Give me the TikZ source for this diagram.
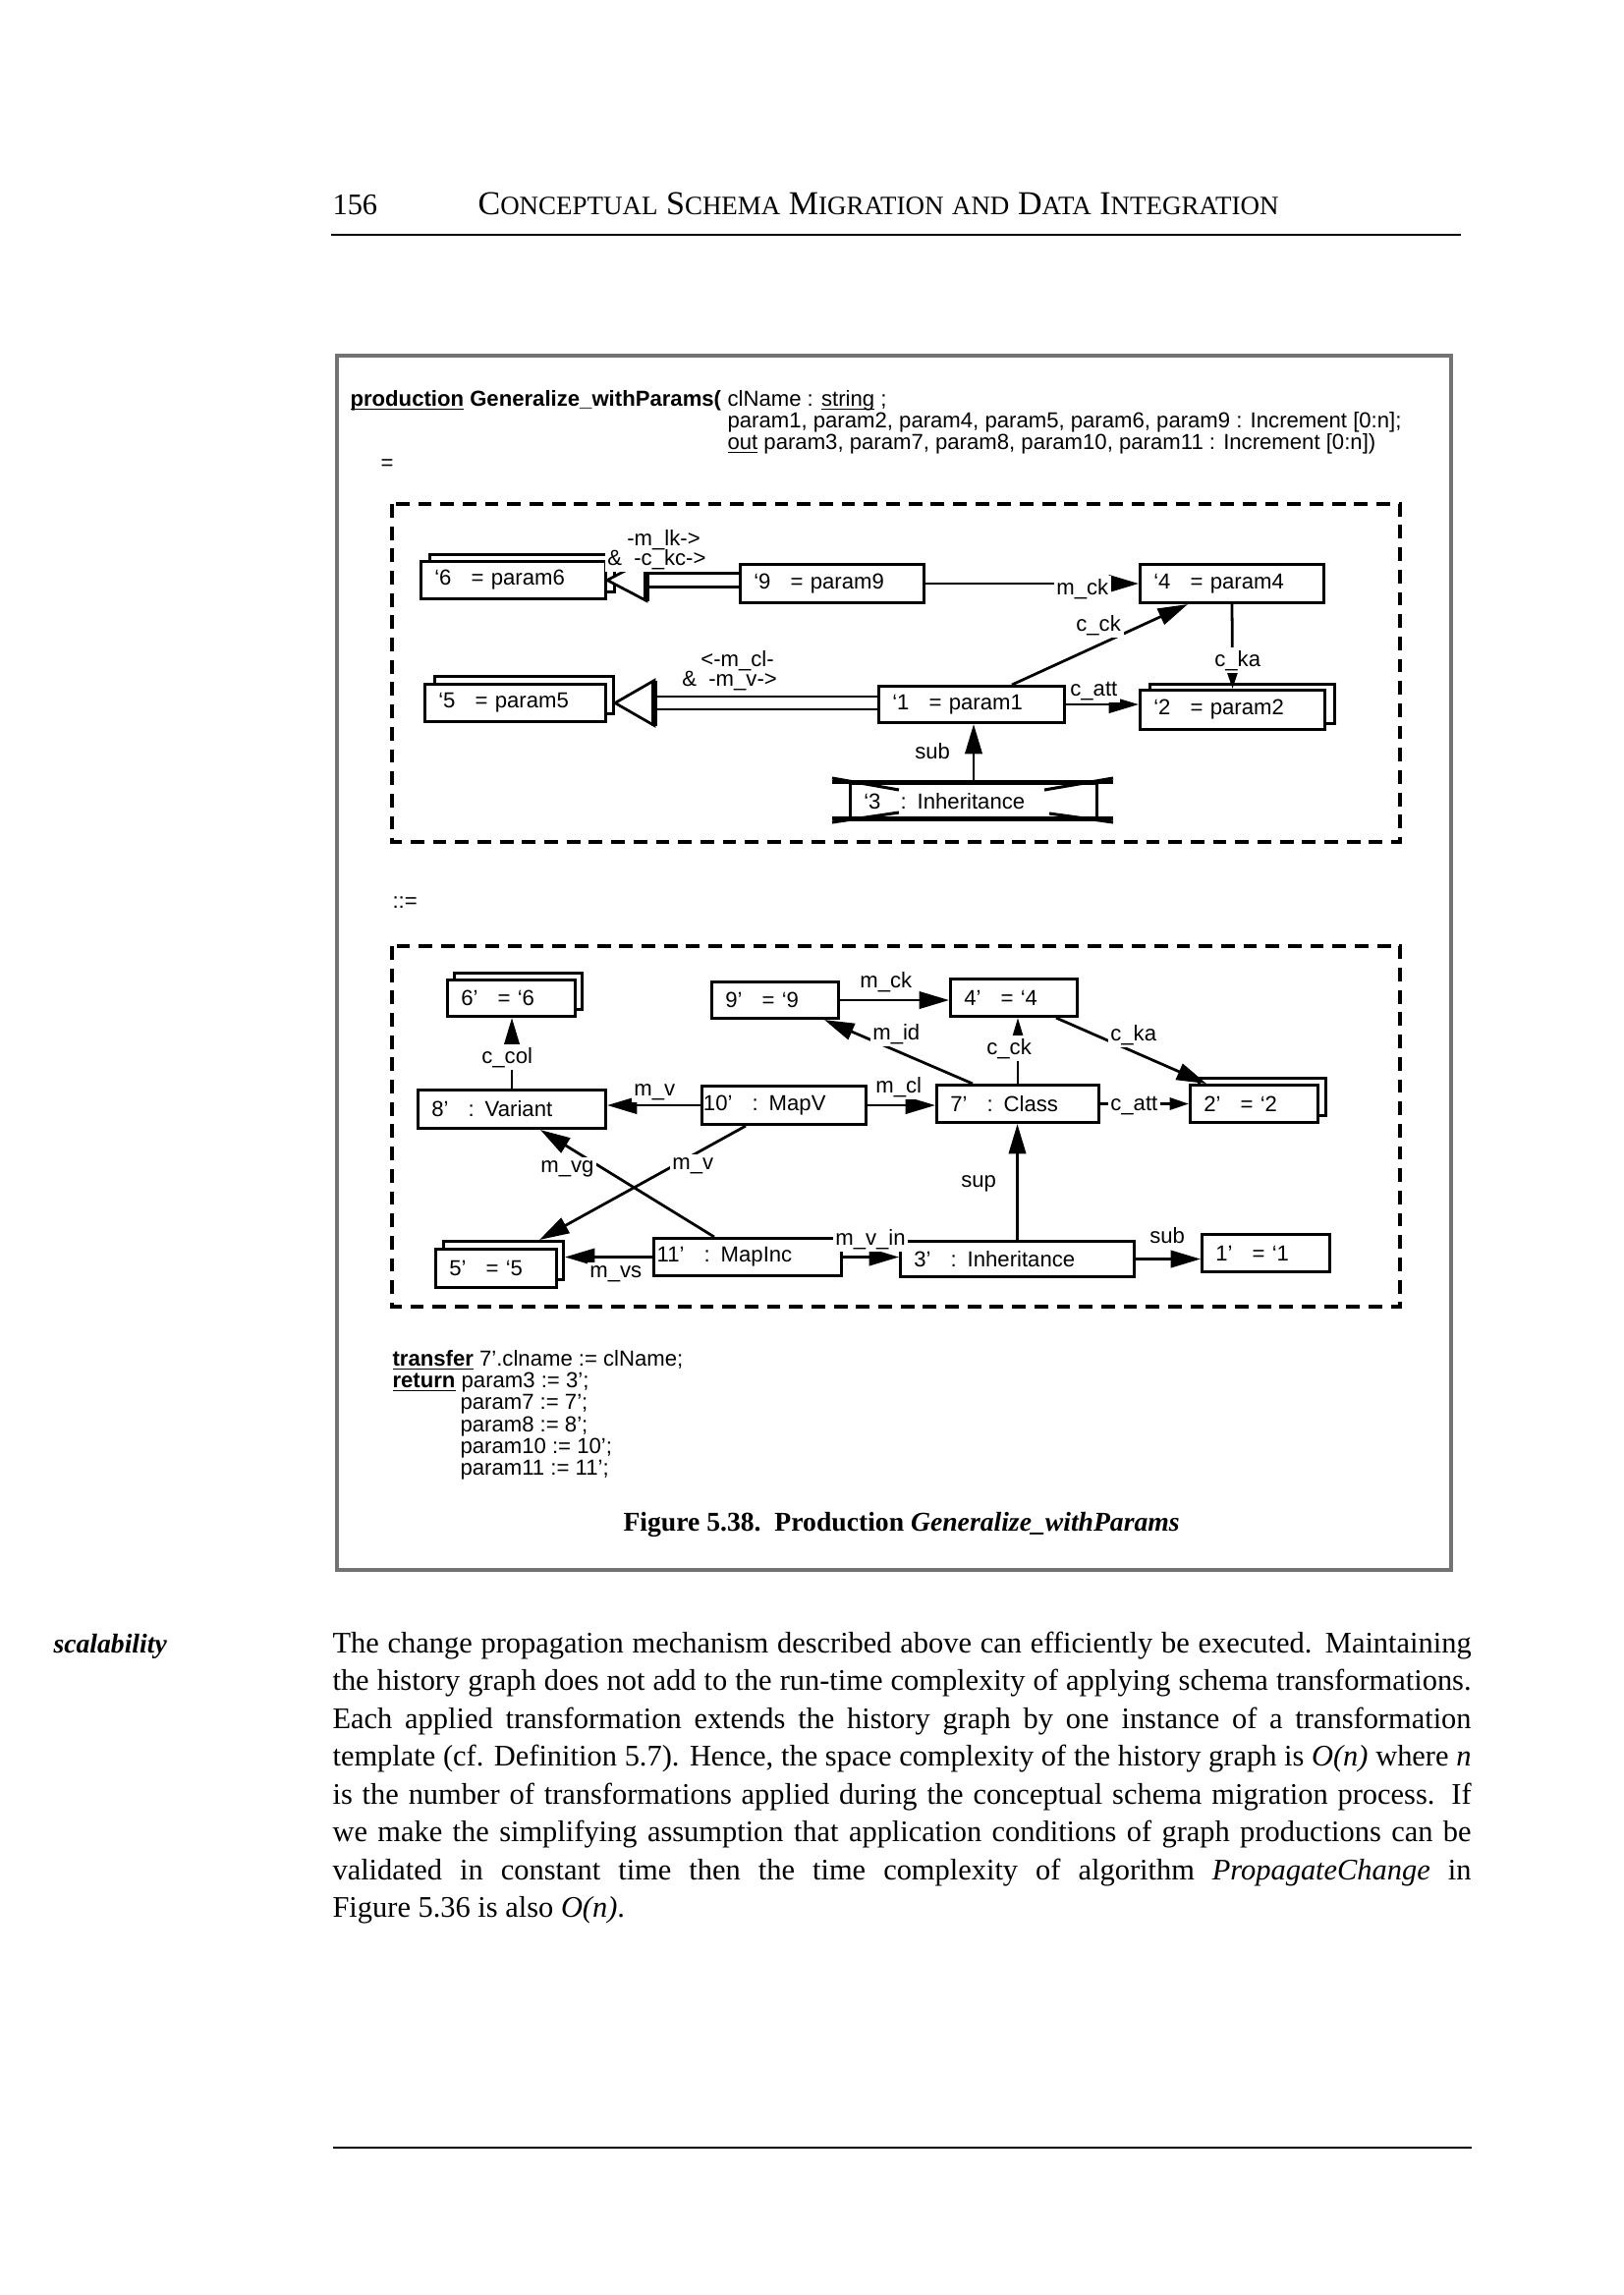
\documentclass[tikz,border=0pt]{standalone}
\usepackage{fontspec}
\setmainfont{Liberation Serif}
\newfontfamily\hvfont{Liberation Sans}
\usetikzlibrary{arrows.meta}
\newdimen\upx
\upx=0.12704mm
\newcommand\dfont{\hvfont\fontsize{8pt}{8pt}\selectfont}
\newcommand\nmcol[1]{\makebox[31\upx][r]{#1}\hspace*{20\upx}}
\newcommand\ulx[1]{\underline{\smash{#1}}}
\newcommand\fsc[2]{{\fontsize{12.3pt}{14pt}\selectfont #1}{\fontsize{9.75pt}{12pt}\selectfont #2}}
\begin{document}
\begin{tikzpicture}[x=0.12704mm, y=-0.12704mm,
  box/.style={draw, line width=1.1pt, fill=white, anchor=north west, inner sep=0pt, align=left, font=\dfont},
  txt/.style={anchor=base west, inner sep=0pt},
  lbl/.style={anchor=base west, inner sep=1pt, fill=white, font=\dfont},
  arr/.style={line width=1pt, -{Triangle[length=11pt,width=6.3pt]}},
  sarr/.style={line width=1pt, -{Triangle[length=7pt,width=4.4pt]}},
  dbl/.style={line width=1pt},
  hollow/.style={line width=1pt, fill=white, line join=miter},
  dashframe/.style={dash pattern=on 5pt off 3.2pt, line width=1.1pt},
  deco/.style={line width=1.1pt},
  body/.style={anchor=base west, inner sep=0pt, font=\fontsize{11pt}{13.9pt}\selectfont}
]
\useasboundingbox (0,0) rectangle (1653,2336);

% page header
\node[txt, font=\fontsize{11pt}{13pt}\selectfont] (pnum) at (338,218) {156};
\node[txt, font=\fontsize{12.3pt}{14pt}\selectfont] (title) at (486,218) {\fsc{C}{ONCEPTUAL} \fsc{S}{CHEMA} \fsc{M}{IGRATION} {\fontsize{9.75pt}{12pt}\selectfont AND} \fsc{D}{ATA} \fsc{I}{NTEGRATION}};
\draw[line width=1pt] (337,239) -- (1487,239);

% figure frame
\draw[line width=1.1pt, black!55] (343,362) rectangle (1477,1598);

% production heading
\node[txt, font=\dfont] (h1) at (356,413) {\textbf{\ulx{production} Generalize\_withParams(}};
\node[txt, font=\dfont] (h2) at (740,413) {clName : \ulx{string} ;};
\node[txt, font=\dfont] (h3) at (740,435) {param1, param2, param4, param5, param6, param9 : Increment [0:n];};
\node[txt, font=\dfont] (h4) at (740,457) {\ulx{out} param3, param7, param8, param10, param11 : Increment [0:n])};
\node[txt, font=\dfont] (heq) at (387,478) {=};

% left-hand side
\draw[dashframe] (399,513) rectangle (1425,857);
\node[box, minimum width=188\upx, minimum height=38\upx, text width=188\upx] (n6b) at (436,563) {};
\node[box, minimum width=188\upx, minimum height=38\upx, text width=188\upx] (n6) at (427,570) {\nmcol{‘6}= param6};
\node[box, minimum width=187\upx, minimum height=39\upx, text width=187\upx] (n9) at (752,573) {\nmcol{‘9}= param9};
\node[box, minimum width=187\upx, minimum height=39\upx, text width=187\upx] (n4) at (1159,573) {\nmcol{‘4}= param4};
\node[box, minimum width=182\upx, minimum height=38\upx, text width=182\upx] (n5b) at (441,687) {};
\node[box, minimum width=184\upx, minimum height=38\upx, text width=184\upx] (n5) at (431,695) {\nmcol{‘5}= param5};
\node[box, minimum width=189\upx, minimum height=37\upx, text width=189\upx] (n1) at (893,697) {\nmcol{‘1}= param1};
\node[box, minimum width=188\upx, minimum height=40\upx, text width=188\upx] (n2b) at (1169,695) {};
\node[box, minimum width=188\upx, minimum height=40\upx, text width=188\upx] (n2) at (1159,701) {\nmcol{‘2}= param2};
\node[box, minimum width=251\upx, minimum height=37\upx, text width=251\upx] (n3) at (864,796) {\nmcol{‘3}: Inheritance};
\draw[deco] (847,796) -- (1133,796);
\draw[deco] (847,833) -- (1133,833);
\draw[deco] (847,792) -- (915,804);
\draw[deco] (847,837) -- (915,827);
\draw[deco] (1063,804) -- (1133,792);
\draw[deco] (1068,828) -- (1133,837);

% hollow double arrows
\coordinate (t1) at (n6.east);
\coordinate (b1) at ([xshift=40\upx]t1);
\coordinate (b1u) at ([yshift=7\upx]b1);
\coordinate (b1d) at ([yshift=-7\upx]b1);
\draw[dbl] (b1u) -- (b1u -| n9.west);
\draw[dbl] (b1d) -- (b1d -| n9.west);
\draw[hollow] (t1) -- ([yshift=21\upx]b1) -- ([yshift=-21\upx]b1) -- cycle;
\draw[line width=2pt] ([yshift=21\upx]b1) -- ([yshift=-21\upx]b1);

\coordinate (t2) at (n5b.east |- n5.east);
\coordinate (b2) at ([xshift=40\upx]t2);
\coordinate (b2u) at ([yshift=6.5\upx]b2);
\coordinate (b2d) at ([yshift=-6.5\upx]b2);
\draw[dbl] (b2u) -- (b2u -| n1.west);
\draw[dbl] (b2d) -- (b2d -| n1.west);
\draw[hollow] (t2) -- ([yshift=23\upx]b2) -- ([yshift=-23\upx]b2) -- cycle;
\draw[line width=2pt] ([yshift=23\upx]b2) -- ([yshift=-23\upx]b2);

% LHS edges
\draw[arr] (n9.east) -- (n9.east -| n4.west);
\draw[arr] ([xshift=137\upx]n1.north west) -- ([xshift=50\upx]n4.south west);
\draw[sarr] (n4.south) -- (n2.north);
\draw[arr] (n1.east) -- (n1.east -| n2.west);
\draw[arr] (n3.north) -- (n3.north |- n1.south);

% LHS labels
\node[lbl] (l2) at (615,575) {\&\ \ -c\_kc->};
\node[lbl, fill=none] (l1) at (635,555) {-m\_lk->};
\node[lbl] (l4) at (691,698) {\&\ \ -m\_v->};
\node[lbl, fill=none] (l3) at (710,678) {<-m\_cl-};
\node[lbl] (l5) at (1072,605) {m\_ck};
\node[lbl] (l6) at (1092,642) {c\_ck};
\node[lbl] (l7) at (1233,678) {c\_ka};
\node[lbl] (l8) at (1086,708) {c\_att};
\node[lbl] (l9) at (928,772) {sub};

\node[txt, font=\dfont] (rewr) at (399,924) {::=};

% right-hand side
\draw[dashframe] (399,963) rectangle (1425,1330);
\node[box, minimum width=130\upx, minimum height=37\upx, text width=130\upx] (r6b) at (461,989) {};
\node[box, minimum width=130\upx, minimum height=37\upx, text width=130\upx] (r6) at (454,996) {\nmcol{6’}= ‘6};
\node[box, minimum width=129\upx, minimum height=37\upx, text width=129\upx] (r9) at (723,998) {\nmcol{9’}= ‘9};
\node[box, minimum width=129\upx, minimum height=38\upx, text width=129\upx] (r4) at (966,995) {\nmcol{4’}= ‘4};
\node[box, minimum width=191\upx, minimum height=39\upx, text width=191\upx] (r8) at (424,1108) {\nmcol{8’}: Variant};
\node[box, minimum width=167\upx, minimum height=39\upx, text width=167\upx] (r10) at (713,1104) {\nmcol{10’}: MapV};
\node[box, minimum width=165\upx, minimum height=38\upx, text width=165\upx] (r7) at (952,1103) {\nmcol{7’}: Class};
\node[box, minimum width=129\upx, minimum height=38\upx, text width=129\upx] (r2b) at (1219,1096) {};
\node[box, minimum width=130\upx, minimum height=38\upx, text width=130\upx] (r2) at (1210,1103) {\nmcol{2’}= ‘2};
\node[box, minimum width=122\upx, minimum height=39\upx, text width=122\upx] (r5b) at (450,1262) {};
\node[box, minimum width=123\upx, minimum height=39\upx, text width=123\upx] (r5) at (442,1270) {\nmcol{5’}= ‘5};
\node[box, minimum width=191\upx, minimum height=38\upx, text width=191\upx] (r11) at (664,1259) {\nmcol{11’}: MapInc};
\node[box, minimum width=238\upx, minimum height=36\upx, text width=238\upx] (r3) at (915,1262) {\nmcol{3’}: Inheritance};
\node[box, minimum width=130\upx, minimum height=38\upx, text width=130\upx] (r1) at (1222,1255) {\nmcol{1’}= ‘1};

% RHS edges
\draw[arr] (r9.east) -- (r9.east -| r4.west);
\draw[arr] ([xshift=38\upx]r7.north west) -- ([xshift=-16\upx]r9.south east);
\draw[arr] (r7.north) -- (r7.north |- r4.south);
\draw[arr] ([xshift=109\upx]r4.south west) -- ([xshift=18\upx]r2.north west);
\draw[sarr] (r7.east) -- (r7.east -| r2.west);
\draw[arr] (r10.west) -- (r10.west -| r8.east);
\draw[arr] (r10.east) -- (r10.east -| r7.west);
\draw[arr] (r8.north) -- (r8.north |- r6.south);
\draw[arr] ([xshift=46\upx]r10.south west) -- ([xshift=99\upx]r5b.north west);
\draw[arr] ([xshift=63\upx]r11.north west) -- ([xshift=126\upx]r8.south west);
\draw[arr] (r11.west) -- (r11.west -| r5b.east);
\draw[arr] (r11.east) -- (r11.east -| r3.west);
\draw[arr] (r3.north) -- (r3.north |- r7.south);
\draw[arr] (r3.east) -- (r3.east -| r1.west);

% RHS labels
\node[lbl] (k1) at (872,1005) {m\_ck};
\node[lbl] (k2) at (885,1058) {m\_id};
\node[lbl] (k3) at (1001,1073) {c\_ck};
\node[lbl] (k4) at (1127,1059) {c\_ka};
\node[lbl] (k5) at (1127,1130) {c\_att};
\node[lbl] (k6) at (642,1115) {m\_v};
\node[lbl] (k7) at (888,1112) {m\_cl};
\node[lbl] (k8) at (487,1082) {c\_col};
\node[lbl] (k9) at (681,1190) {m\_v};
\node[lbl] (k10) at (547,1193) {m\_vg};
\node[lbl] (k11) at (597,1300) {m\_vs};
\node[lbl] (k12) at (847,1267) {m\_v\_in};
\node[lbl] (k13) at (975,1208) {sup};
\node[lbl] (k14) at (1167,1265) {sub};

% transfer / return
\node[txt, font=\dfont] (tr1) at (399,1390) {\ulx{\textbf{transfer}} 7’.clname := clName;};
\node[txt, font=\dfont] (tr2) at (399,1412) {\ulx{\textbf{return}} param3 := 3’;};
\node[txt, font=\dfont] (tr3) at (468,1434.5) {param7 := 7’;};
\node[txt, font=\dfont] (tr4) at (468,1457) {param8 := 8’;};
\node[txt, font=\dfont] (tr5) at (468,1479) {param10 := 10’;};
\node[txt, font=\dfont] (tr6) at (468,1501.5) {param11 := 11’;};

% caption
\node[txt, font=\bfseries\fontsize{10pt}{12pt}\selectfont] (cap) at (634,1558) {Figure 5.38.\ \ Production \textit{Generalize\_withParams}};

% body text
\node[txt, font=\bfseries\itshape\fontsize{10pt}{12pt}\selectfont] (marg) at (54,1682) {scalability};
\node[body] (p1) at (338,1682) {\makebox[1159\upx][s]{The change propagation mechanism described above can efficiently be executed. Maintaining}};
\node[body] (p2) at (338,1720.5) {\makebox[1159\upx][s]{the history graph does not add to the run-time complexity of applying schema transformations.}};
\node[body] (p3) at (338,1759) {\makebox[1159\upx][s]{Each applied transformation extends the history graph by one instance of a transformation}};
\node[body] (p4) at (338,1797.5) {\makebox[1159\upx][s]{template (cf. Definition 5.7). Hence, the space complexity of the history graph is \textit{O(n)} where \textit{n}}};
\node[body] (p5) at (338,1836) {\makebox[1159\upx][s]{is the number of transformations applied during the conceptual schema migration process. If}};
\node[body] (p6) at (338,1874.5) {\makebox[1159\upx][s]{we make the simplifying assumption that application conditions of graph productions can be}};
\node[body] (p7) at (338,1913) {\makebox[1159\upx][s]{validated in constant time then the time complexity of algorithm \textit{PropagateChange} in}};
\node[body] (p8) at (338,1951.5) {Figure 5.36 is also \textit{O(n)}.};

% footer rule
\draw[line width=0.7pt] (339,2186) -- (1498,2186);
\end{tikzpicture}
\end{document}
